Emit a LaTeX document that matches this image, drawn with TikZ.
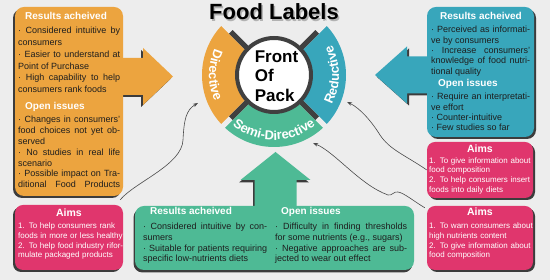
\documentclass[tikz,border=0pt]{standalone}
\usepackage{fontspec}
\setmainfont{Liberation Sans}
\usetikzlibrary{arrows.meta,shadows,decorations.text}

\definecolor{bgc}{HTML}{EDEDED}
\definecolor{dirc}{HTML}{ECA43F}
\definecolor{redc}{HTML}{38A6BB}
\definecolor{semc}{HTML}{4EBA95}
\definecolor{aimc}{HTML}{E0366D}
\definecolor{shdc}{HTML}{3C3C3C}
\definecolor{ringc}{HTML}{404040}
\definecolor{txtc}{HTML}{1E1E1E}
\definecolor{linkc}{HTML}{4A4A4A}

\newcommand{\arcfont}{\color{white}\bfseries\fontsize{13}{15}\selectfont}

\newcommand{\dirshape}[1]{%
  \path[#1, rounded corners=9pt] (15,84) rectangle (123,273);
  \path[#1] (121,185) -- (143,185) -- (143,175) -- (173,203.5) -- (143,232) -- (143,222) -- (121,222) -- cycle;}
\newcommand{\redshape}[1]{%
  \path[#1, rounded corners=9pt] (427,143) rectangle (534,273);
  \path[#1] (429,186.5) -- (407,186.5) -- (407,176.5) -- (375,205) -- (407,233.5) -- (407,223.5) -- (429,223.5) -- cycle;}
\newcommand{\semshape}[1]{%
  \path[#1, rounded corners=9pt] (135,10) rectangle (414,74);
  \path[#1] (254.5,72) -- (254.5,100) -- (240.5,100) -- (275.5,128) -- (310.5,100) -- (296.5,100) -- (296.5,72) -- cycle;}

\tikzset{
  head/.style={anchor=base west, inner sep=0pt, text=white, font=\bfseries\fontsize{10}{12}\selectfont},
  body/.style={anchor=base west, inner sep=0pt, text=txtc, align=justify, font=\fontsize{9}{#1}\selectfont},
  aimbox/.style={fill=aimc, rounded corners=8pt, inner sep=0pt},
  lshadow/.style={drop shadow={shadow xshift=-2pt, shadow yshift=-2pt, fill=shdc, opacity=1}},
  rshadow/.style={drop shadow={shadow xshift=2pt, shadow yshift=-2pt, fill=shdc, opacity=1}},
  aimhead/.style={anchor=base, inner sep=0pt, text=white, font=\bfseries\fontsize{10.5}{12}\selectfont},
  aimtext/.style={anchor=base west, inner sep=0pt, text=white, align=left, text width=105pt, font=\fontsize{8}{9.6}\selectfont},
  titletxt/.style={anchor=base, inner sep=0pt, font=\bfseries\fontsize{22}{26}\selectfont},
  link/.style={draw=linkc, line width=0.6pt, ->}
}

\begin{document}
\begin{tikzpicture}[x=1pt, y=1pt, >={Stealth[length=5pt,width=3.6pt]}]
\fill[bgc] (0,0) rectangle (550,280);
\useasboundingbox (0,0) rectangle (550,280);

% panels with their arrows
\dirshape{fill=shdc, shift={(-2,-2)}}
\redshape{fill=shdc, shift={(2,-2)}}
\semshape{fill=shdc, shift={(-1.5,-2.5)}}
\dirshape{fill=dirc}
\redshape{fill=redc}
\semshape{fill=semc}

% title
\node[titletxt, text=black!30] (titleshd) at (275.5,258) {Food Labels};
\node[titletxt] (title) at (274,260) {Food Labels};

% wheel
\begin{scope}[shift={(274,205)}]
\fill[dirc] (135:72) arc[start angle=135, end angle=225, radius=72pt] -- (225:36) arc[start angle=225, end angle=135, radius=36pt] -- cycle;
\fill[semc] (225:72) arc[start angle=225, end angle=315, radius=72pt] -- (315:36) arc[start angle=315, end angle=225, radius=36pt] -- cycle;
\fill[redc] (-45:72) arc[start angle=-45, end angle=45, radius=72pt] -- (45:36) arc[start angle=45, end angle=-45, radius=36pt] -- cycle;
\foreach \a in {45,135,225,315} {
  \draw[bgc, line width=5pt] (\a:38) -- (\a:75);
  \draw[ringc, line width=5pt] (\a:36) -- (\a:61);
}
\draw[ringc, line width=4pt, fill=white] (0,0) circle[radius=37pt];
\path[decorate, decoration={text along path, text align=center, text={|\arcfont|Directive}}] (137:65) arc[start angle=137, end angle=223, radius=65pt];
\path[decorate, decoration={text along path, text align=center, text={|\arcfont|Semi-Directive}}] (227:65) arc[start angle=227, end angle=313, radius=65pt];
\path[decorate, decoration={text along path, text align=center, text={|\arcfont|Reductive}}] (-43:65) arc[start angle=-43, end angle=43, radius=65pt];
\end{scope}
\node[align=left, inner sep=0pt, font=\bfseries\fontsize{17}{19.5}\selectfont] (fop) at (276.5,204) {Front\\Of\\Pack};

\coordinate (dirIn) at (198,177);
\coordinate (redIn) at (347,178);
\coordinate (semIn) at (313,137);

% directive texts
\node[head] (dirResH) at (25,260) {Results acheived};
\node[body=11.7, text width=102pt] (dirResT) at (18,246) {· Considered intuitive by\linebreak consumers\par
· Easier to understand at\linebreak Point of Purchase\par
· High capability to help\linebreak consumers rank foods};
\node[head] (dirIssH) at (25,170) {Open issues};
\node[body=10.8, text width=102pt] (dirIssT) at (18,157) {· Changes in consumers'\linebreak food choices not yet ob-\linebreak served\par
· No studies in real life\linebreak scenario\par
· Possible impact on Tra-\linebreak ditional\hfill Food\hfill Products};

% reductive texts
\node[head, anchor=base] (redResH) at (481,260) {Results acheived};
\node[body=10.3, text width=99pt] (redResT) at (431,247) {· Perceived as informati-\linebreak ve by consumers\par
· Increase consumers'\linebreak knowledge of food nutri-\linebreak tional quality};
\node[head] (redIssH) at (438,193) {Open issues};
\node[body=10.3, text width=99pt] (redIssT) at (431,180) {· Require an interpretati-\linebreak ve effort\par
· Counter-intuitive\par
· Few studies so far};

% semi-directive texts
\node[head] (semResH) at (150,65) {Results acheived};
\node[body=10.6, text width=124pt] (semResT) at (143,50) {· Considered intuitive by con-\linebreak sumers\par
· Suitable for patients requiring\linebreak specific low-nutrients diets};
\node[head] (semIssH) at (281,65) {Open issues};
\node[body=10.6, text width=132pt] (semIssT) at (275,50) {· Difficulty in finding thresholds\linebreak for some nutrients (e.g., sugars)\par
· Negative approaches are sub-\linebreak jected to wear out effect};

% aims
\node[aimbox, lshadow, minimum width=108pt, minimum height=65pt] (aimsD) at (69,42.5) {};
\node[aimhead] (aimsDH) at (69,63.3) {Aims};
\node[aimtext] (aimsDT) at (18,51) {1. To help consumers rank\\foods in more or less healthy\\2. To help food industry rifor-\\mulate packaged products};

\node[aimbox, rshadow, minimum width=106pt, minimum height=56pt] (aimsR) at (480,110) {};
\node[aimhead] (aimsRH) at (480,127) {Aims};
\node[aimtext] (aimsRT) at (429,116.7) {1. To give information about\\food composition\\2. To help consumers insert\\foods into daily diets};

\node[aimbox, rshadow, minimum width=106pt, minimum height=64pt] (aimsS) at (480,42) {};
\node[aimhead] (aimsSH) at (480,64) {Aims};
\node[aimtext] (aimsST) at (429,51) {1. To warn consumers about\\high nutrients content\\2. To give information about\\food composition};

% links
\draw[link] ([xshift=-3pt,yshift=5pt]aimsD.north east) .. controls (135,98) and (182,115) .. (183,140) .. controls (184,160) and (186,170) .. (dirIn);
\draw[link] (aimsR.west) .. controls (405,125) and (390,130) .. (380,145) .. controls (372,158) and (360,172) .. (redIn);
\draw[link] ([xshift=-2pt,yshift=-2pt]aimsS.north west) .. controls (412,80) and (404,87) .. (398,88) .. controls (394,89) and (392,84) .. (388,85) .. controls (360,95) and (335,128) .. (semIn);
\end{tikzpicture}
\end{document}
